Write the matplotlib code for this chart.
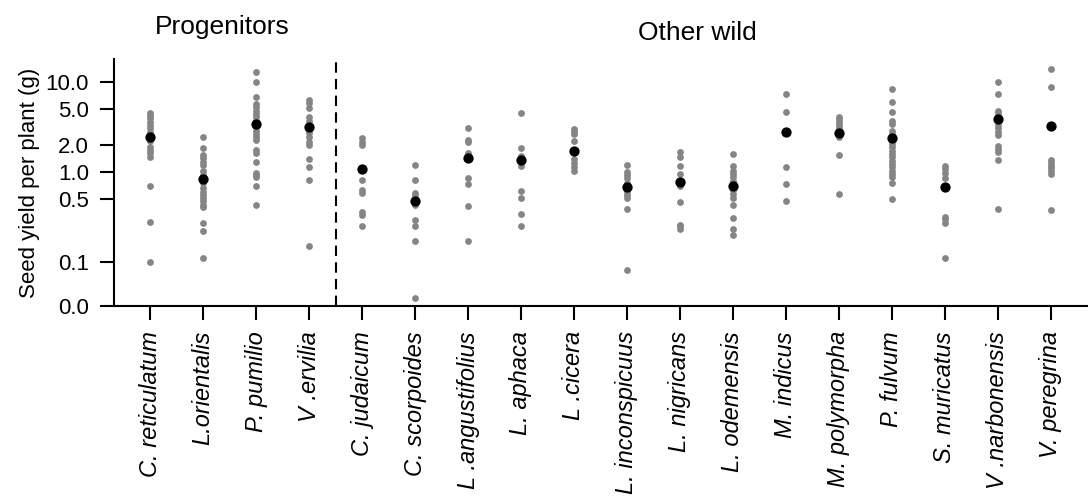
import matplotlib.pyplot as plt
import numpy as np

plt.rcParams['font.family'] = ['Liberation Sans', 'DejaVu Sans']

species = ["C. reticulatum", "L.orientalis", "P. pumilio", "V .ervilia",
           "C. judaicum", "C. scorpoides", "L .angustifolius", "L. aphaca",
           "L .cicera", "L. inconspicuus", "L. nigricans", "L. odemensis",
           "M. indicus", "M. polymorpha", "P. fulvum", "S. muricatus",
           "V .narbonensis", "V. peregrina"]

c_reticulatum = [4.49, 4.19, 3.95, 3.62, 3.33, 3.06, 2.81, 2.58, 2.37, 2.23, 1.88, 1.76, 1.61, 1.48, 0.70, 0.28, 0.10]
l_orientalis = [2.47, 1.83, 1.55, 1.42, 1.30, 1.20, 1.03, 0.93, 0.75, 0.66, 0.60, 0.56, 0.51, 0.47, 0.43, 0.41, 0.27, 0.22, 0.11]
p_pumilio = [12.9, 10.0, 6.87, 5.70, 5.23, 4.80, 4.41, 4.05, 3.72, 3.19, 2.88, 2.64, 2.43, 2.27, 1.76, 1.61, 1.30, 0.98, 0.93, 0.87, 0.69, 0.43]
v_ervilia = [6.31, 5.80, 5.10, 4.05, 3.72, 2.93, 2.69, 2.43, 2.17, 2.00, 1.38, 1.15, 0.81, 0.15]
c_judaicum = [2.37, 2.17, 2.00, 0.81, 0.63, 0.58, 0.36, 0.33, 0.25]
c_scorpoides = [1.19, 0.81, 0.59, 0.56, 0.43, 0.29, 0.25, 0.17, 0.040]
l_angustifolius = [3.06, 2.27, 2.17, 1.61, 1.55, 0.85, 0.74, 0.42, 0.17]
l_aphaca = [4.49, 1.85, 1.51, 1.38, 1.17, 0.62, 0.51, 0.34, 0.25]
l_cicera = [2.98, 2.81, 2.64, 2.19, 1.38, 1.25, 1.15, 1.03]
l_inconspicuus = [1.20, 1.01, 0.93, 0.85, 0.75, 0.60, 0.56, 0.52, 0.39, 0.081]
l_nigricans = [1.68, 1.48, 1.17, 0.95, 0.69, 0.46, 0.26, 0.25, 0.23]
l_odemensis = [1.57, 1.17, 1.03, 0.95, 0.87, 0.80, 0.75, 0.63, 0.57, 0.51, 0.43, 0.31, 0.23, 0.20]
m_indicus = [7.36, 4.68, 1.15, 0.74, 0.48]
m_polymorpha = [4.11, 3.85, 3.62, 3.41, 3.19, 2.93, 2.64, 2.43, 1.55, 0.57]
p_fulvum = [8.43, 5.95, 4.61, 3.72, 3.41, 2.88, 2.64, 2.43, 2.23, 2.05, 1.88, 1.72, 1.58, 1.46, 1.34, 1.23, 1.13, 1.03, 0.95, 0.89, 0.76, 0.50]
s_muricatus = [1.17, 1.07, 0.98, 0.86, 0.32, 0.30, 0.27, 0.11]
v_narbonensis = [9.93, 7.41, 4.80, 4.49, 4.11, 3.33, 3.06, 2.81, 2.58, 1.95, 1.79, 1.68, 1.36, 0.39]
v_peregrina = [13.8, 8.87, 1.36, 1.25, 1.17, 1.10, 1.03, 0.94, 0.38]

plants = [c_reticulatum, l_orientalis, p_pumilio, v_ervilia, c_judaicum,
          c_scorpoides, l_angustifolius, l_aphaca, l_cicera, l_inconspicuus,
          l_nigricans, l_odemensis, m_indicus, m_polymorpha, p_fulvum,
          s_muricatus, v_narbonensis, v_peregrina]

means = [2.43, 0.84, 3.44, 3.19, 1.07, 0.47, 1.42, 1.35, 1.72, 0.68,
         0.78, 0.70, 2.80, 2.71, 2.39, 0.68, 3.88, 3.27]

ytick_vals = [0.0324, 0.1, 0.5, 1.0, 2.0, 5.0, 10.0]
ytick_labels = ["0.0", "0.1", "0.5", "1.0", "2.0", "5.0", "10.0"]

fig = plt.figure(figsize=(10.88, 4.98), dpi=100)
ax = fig.add_axes([0.1048, 0.3855, 0.8952, 0.496])

for i, vals in enumerate(plants):
    ax.scatter([i] * len(vals), vals, s=24, color="#858585", zorder=2, linewidths=0)
ax.scatter(range(len(means)), means, s=55, color="black", zorder=3, linewidths=0)

ax.axvline(3.5, color="black", linestyle=(0, (5, 3)), linewidth=1.5)

ax.set_yscale("log")
ax.set_ylim(0.0324, 18.0)
ax.set_xlim(-0.68, 17.7)
ax.set_yticks(ytick_vals)
ax.set_yticklabels(ytick_labels)
ax.minorticks_off()
ax.set_xticks(range(len(species)))
ax.set_xticklabels(species, rotation=90, style="italic")
ax.tick_params(labelsize=16, length=10, width=1.5, pad=8)
ax.tick_params(axis="x", labelsize=17)
ax.set_ylabel("Seed yield per plant (g)", fontsize=16)

for s in ["top", "right"]:
    ax.spines[s].set_visible(False)
for s in ["left", "bottom"]:
    ax.spines[s].set_linewidth(1.5)

fig.text(222 / 1088, 1 - 27 / 498, "Progenitors", ha="center", va="center", fontsize=19)
fig.text(697 / 1088, 1 - 33 / 498, "Other wild", ha="center", va="center", fontsize=19)

fig.savefig("out.png", dpi=100)
